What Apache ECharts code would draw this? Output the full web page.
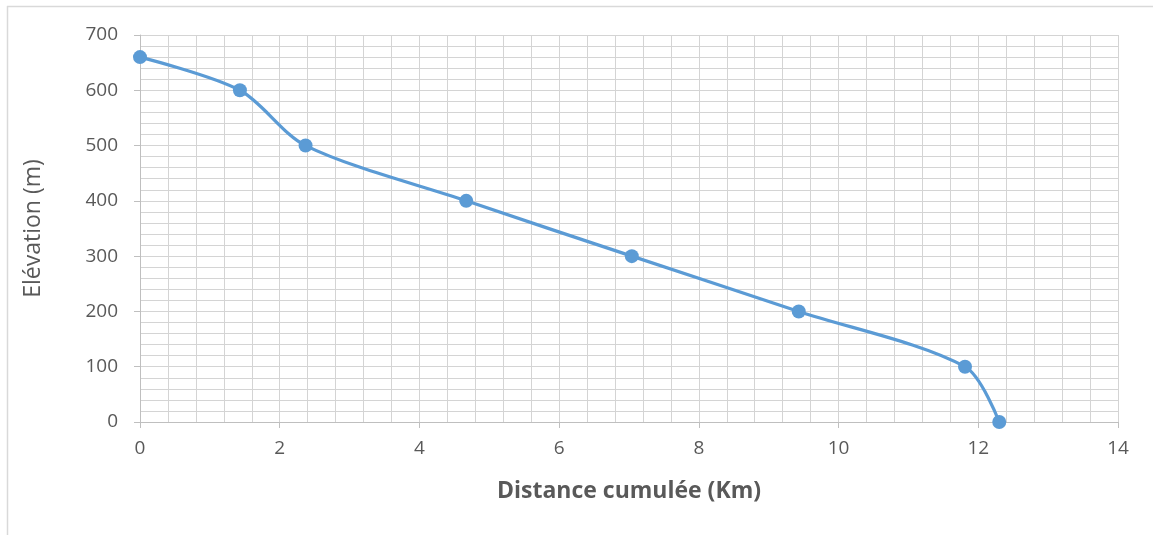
<!DOCTYPE html>
<html>
<head>
<meta charset="utf-8">
<script src="https://cdn.jsdelivr.net/npm/echarts@6/dist/echarts.min.js"></script>
<style>html,body{margin:0;padding:0;background:#fff;}#c{width:1153px;height:535px;}</style>
</head>
<body>
<div id="c"></div>
<script>
const distances = [0, 1.43, 2.37, 4.67, 7.04, 9.43, 11.81, 12.3];
const elevations = [660, 600, 500, 400, 300, 200, 100, 0];
const xTitle = 'Distance cumulée (Km)';
const yTitle = 'Elévation (m)';

const chart = echarts.init(document.getElementById('c'), null, {renderer: 'canvas'});
const font = '"Open Sans", "Liberation Sans", sans-serif';
const gridColor = '#d4d4d4';
chart.setOption({
  animation: false,
  backgroundColor: '#fff',
  graphic: [
    {type: 'line', shape: {x1: 7, y1: 6.5, x2: 1153, y2: 6.5}, style: {stroke: '#d9d9d9', lineWidth: 1.5}, silent: true},
    {type: 'line', shape: {x1: 7.5, y1: 6, x2: 7.5, y2: 535}, style: {stroke: '#d9d9d9', lineWidth: 1.5}, silent: true}
  ],
  grid: {left: 140, right: 35, top: 35, bottom: 113, containLabel: false},
  xAxis: {
    type: 'value', min: 0, max: 14, interval: 2,
    name: xTitle, nameLocation: 'middle', nameGap: 58,
    nameTextStyle: {fontFamily: font, fontSize: 23, fontWeight: 'bold', color: '#595959'},
    axisLine: {show: true, onZero: false, lineStyle: {color: '#bfbfbf', width: 1}},
    axisTick: {show: true, length: 6, lineStyle: {color: '#bfbfbf'}},
    axisLabel: {fontFamily: font, fontSize: 19, color: '#595959', margin: 17},
    splitLine: {show: true, lineStyle: {color: gridColor, width: 1}},
    minorTick: {show: false, splitNumber: 5},
    minorSplitLine: {show: true, lineStyle: {color: gridColor, width: 1}}
  },
  yAxis: {
    type: 'value', min: 0, max: 700, interval: 100,
    name: yTitle, nameLocation: 'middle', nameGap: 95, nameRotate: 90,
    nameTextStyle: {fontFamily: font, fontSize: 23, color: '#595959'},
    axisLine: {show: true, lineStyle: {color: '#bfbfbf', width: 1}},
    axisTick: {show: true, length: 6, lineStyle: {color: '#bfbfbf'}},
    axisLabel: {fontFamily: font, fontSize: 19, color: '#595959', margin: 22},
    splitLine: {show: true, lineStyle: {color: gridColor, width: 1}},
    minorTick: {show: false, splitNumber: 5},
    minorSplitLine: {show: true, lineStyle: {color: gridColor, width: 1}}
  },
  series: [{
    type: 'line',
    data: distances.map((d, i) => [d, elevations[i]]),
    smooth: 0.3,
    symbol: 'circle', symbolSize: 14,
    lineStyle: {color: '#5b9bd5', width: 3.2},
    itemStyle: {color: '#5b9bd5'}
  }]
});
</script>
</body>
</html>
